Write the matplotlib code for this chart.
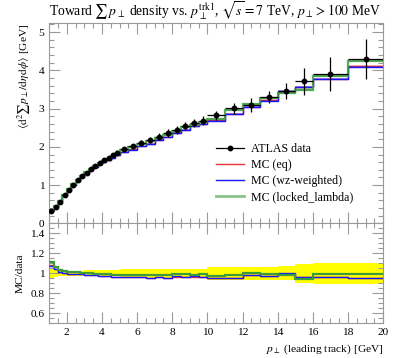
import numpy as np
import matplotlib
matplotlib.use('Agg')
import matplotlib.pyplot as plt
from matplotlib.ticker import MultipleLocator

plt.rcParams['font.family'] = ['Liberation Serif', 'DejaVu Serif']
plt.rcParams['mathtext.fontset'] = 'stix'
plt.rcParams['font.size'] = 8.2

# bin edges in leading track pT [GeV]
edges = [1.0, 1.25, 1.5, 1.75, 2.0, 2.25, 2.5, 2.75, 3.0, 3.25, 3.5, 3.75,
         4.0, 4.25, 4.5, 4.75, 5.0, 5.5, 6.0, 6.5, 7.0, 7.5, 8.0, 8.5, 9.0,
         9.5, 10.0, 11.0, 12.0, 13.0, 14.0, 15.0, 16.0, 18.0, 20.0]

# ATLAS data
data = [0.32, 0.42, 0.57, 0.73, 0.88, 1.01, 1.13, 1.23, 1.33, 1.42, 1.50,
        1.58, 1.65, 1.71, 1.78, 1.85, 1.94, 2.01, 2.10, 2.18, 2.27, 2.37,
        2.44, 2.55, 2.62, 2.68, 2.82, 3.01, 3.10, 3.31, 3.46, 3.71, 3.90, 4.30]
data_err = [0.02, 0.02, 0.02, 0.02, 0.02, 0.03, 0.03, 0.03, 0.03, 0.04, 0.04,
            0.04, 0.05, 0.05, 0.05, 0.06, 0.06, 0.07, 0.07, 0.08, 0.09, 0.10,
            0.10, 0.11, 0.11, 0.12, 0.12, 0.14, 0.18, 0.16, 0.20, 0.36, 0.45, 0.52]
# relative data uncertainty shown in the ratio panel
band_rel = [0.05, 0.04, 0.03, 0.025, 0.025, 0.025, 0.025, 0.025, 0.03, 0.03,
            0.03, 0.03, 0.03, 0.03, 0.03, 0.03, 0.04, 0.04, 0.04, 0.045, 0.045,
            0.045, 0.045, 0.045, 0.045, 0.045, 0.065, 0.065, 0.065, 0.065, 0.07,
            0.095, 0.105, 0.105]

# MC / data ratios
ratio_eq = [1.08, 1.04, 1.015, 1.0, 0.995, 0.993, 0.99, 0.99, 0.985, 0.982,
            0.98, 0.978, 0.975, 0.97, 0.966, 0.963, 0.962, 0.962, 0.96, 0.957,
            0.962, 0.953, 0.968, 0.962, 0.968, 0.967, 0.955, 0.952, 0.98, 0.972,
            0.99, 0.962, 0.968, 0.955]
ratio_wz = [1.075, 1.04, 1.015, 1.0, 0.995, 0.993, 0.99, 0.99, 0.985, 0.982,
            0.98, 0.978, 0.975, 0.97, 0.965, 0.962, 0.96, 0.96, 0.96, 0.955,
            0.96, 0.95, 0.97, 0.96, 0.97, 0.965, 0.95, 0.95, 0.985, 0.97,
            1.003, 0.96, 0.966, 0.95]
ratio_ll = [1.11, 1.065, 1.035, 1.02, 1.015, 1.012, 1.01, 1.008, 1.005, 1.0,
            0.998, 0.995, 0.99, 0.99, 0.988, 0.985, 0.985, 0.988, 0.985, 0.987,
            0.98, 0.98, 0.99, 0.99, 0.98, 0.99, 0.97, 0.985, 1.003, 0.99,
            0.985, 0.943, 0.99, 0.99]
mc_rel_err = 0.008

labels = ['MC (eq)', 'MC (wz-weighted)', 'MC (locked_lambda)']
colors = ['#ee3333', '#1515ff', '#3c9c3c']

edges = np.array(edges)
data = np.array(data)
centers = 0.5 * (edges[1:] + edges[:-1])
halfw = 0.5 * (edges[1:] - edges[:-1])

fig = plt.figure(figsize=(3.97, 3.58), dpi=100)
ax = fig.add_axes([0.124, 0.376, 0.841, 0.559])
rax = fig.add_axes([0.124, 0.097, 0.841, 0.279], sharex=ax)

for r, lab, c in zip([ratio_eq, ratio_wz, ratio_ll], labels, colors):
    mc = data * np.array(r)
    lw = 1.6 if 'locked' in lab else 1.0
    ax.stairs(mc * (1 + mc_rel_err), edges, baseline=mc * (1 - mc_rel_err),
              fill=True, color=c, alpha=0.3, lw=0)
    ax.stairs(mc, edges, baseline=None, color=c, lw=lw,
              alpha=0.85 if 'locked' in lab else 1)
    rax.stairs(np.array(r), edges, baseline=None, color=c, lw=lw, zorder=3)

ax.errorbar(centers, data, yerr=data_err, xerr=halfw, fmt='o', color='black',
            ms=3.2, lw=0.9, capsize=0, zorder=5)

band = np.array(band_rel)
rax.stairs(1 + band, edges, baseline=1 - band, fill=True, color='#ffff00', lw=0,
           zorder=1)

leg_handles = [plt.Line2D([], [], color='black', marker='o', ms=3.2, lw=0.9)]
for lab, c in zip(labels, colors):
    lw = 2.0 if 'locked' in lab else 1.0
    leg_handles.append(plt.Line2D([], [], color=c, lw=lw,
                                  alpha=0.6 if 'locked' in lab else 1))
ax.legend(leg_handles, ['ATLAS data'] + labels, loc='center left',
          bbox_to_anchor=(0.50, 0.252), frameon=False, borderpad=0,
          borderaxespad=0, handlelength=2.3, handletextpad=0.6,
          labelspacing=0.35, fontsize=8.6)

ax.set_xlim(1, 20)
ax.set_ylim(0, 5.23)
rax.set_ylim(0.5, 1.5)

for a in (ax, rax):
    a.xaxis.set_major_locator(MultipleLocator(2))
    a.xaxis.set_minor_locator(MultipleLocator(0.5))
    a.tick_params(which='both', direction='in', top=True, right=True,
                  color='#999999')
    a.tick_params(which='major', length=8, width=0.8)
    a.tick_params(which='minor', length=3.5, width=0.8)
    for s in a.spines.values():
        s.set_color('#999999')
        s.set_linewidth(0.8)
ax.yaxis.set_major_locator(MultipleLocator(1))
ax.yaxis.set_minor_locator(MultipleLocator(0.2))
rax.yaxis.set_minor_locator(MultipleLocator(0.05))
rax.set_yticks([0.6, 0.8, 1.0, 1.2, 1.4])
rax.set_yticklabels(['0.6', '0.8', '1', '1.2', '1.4'])
rax.set_xticks(range(2, 21, 2))
plt.setp(ax.get_xticklabels(), visible=False)

ax.set_title(r'Toward $\sum\,p_\perp$ density vs. $p_\perp^{\mathrm{trk1}}$, '
             r'$\sqrt{s}=7$ TeV, $p_\perp > 100$ MeV', loc='left', pad=5)
ax.set_ylabel(r'$\langle\mathrm{d}^2\sum p_\perp/\mathrm{d}\eta\,\mathrm{d}\phi\rangle$ [GeV]',
              loc='top')
rax.set_ylabel('MC/data')
rax.set_xlabel(r'$p_\perp$ (leading track) [GeV]', loc='right')

fig.savefig('out.png', dpi=100)
